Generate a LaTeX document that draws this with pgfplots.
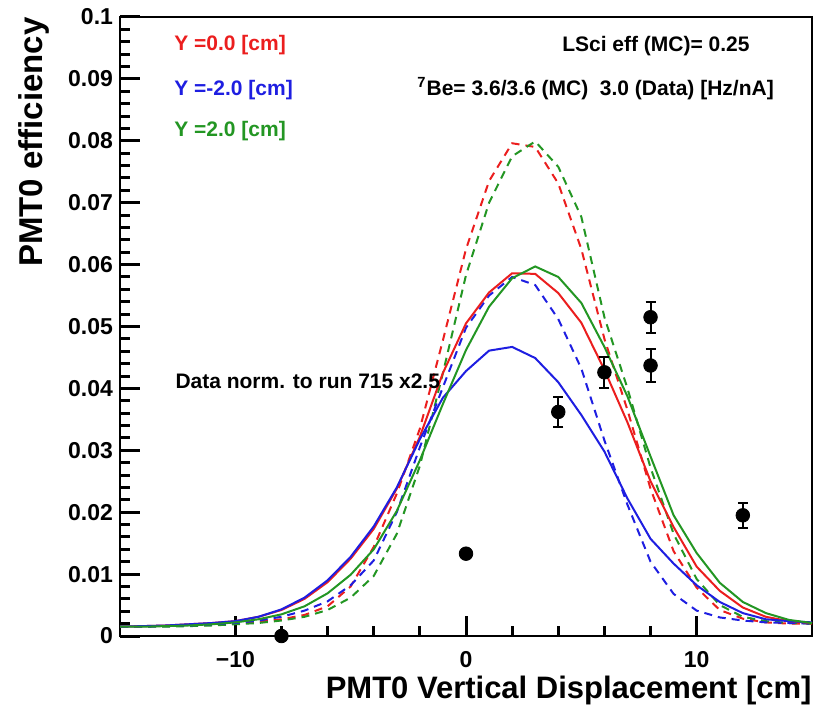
\documentclass[border=0pt]{standalone}
\usepackage{fontspec}
\setmainfont{Liberation Sans}
\usepackage{pgfplots}
\usepackage{pgfplotstable}
\pgfplotsset{compat=1.18}
\definecolor{rootred}{RGB}{235,30,30}
\definecolor{rootblue}{RGB}{30,30,225}
\definecolor{rootgreen}{RGB}{35,150,35}

\pgfplotstableread{
x rs bs gs rd bd gd
-15 0.0015 0.0015 0.0015 0.0015 0.0015 0.0015
-14 0.0016 0.0016 0.0015 0.0015 0.0015 0.0015
-13 0.0017 0.0017 0.0016 0.0016 0.0016 0.0015
-12 0.0019 0.0019 0.0017 0.0017 0.0017 0.0016
-11 0.0021 0.0021 0.0019 0.0018 0.0019 0.0017
-10 0.0024 0.0024 0.0022 0.0020 0.0021 0.0019
-9 0.0031 0.0031 0.0027 0.0023 0.0025 0.0021
-8 0.0042 0.0043 0.0035 0.0027 0.0031 0.0025
-7 0.0060 0.0062 0.0048 0.0034 0.0041 0.0031
-6 0.0087 0.0090 0.0069 0.0048 0.0056 0.0042
-5 0.0125 0.0128 0.0099 0.0080 0.0082 0.0062
-4 0.0173 0.0177 0.0140 0.0144 0.0122 0.0097
-3 0.0238 0.0240 0.0202 0.0230 0.0200 0.0165
-2 0.0322 0.0318 0.0284 0.0335 0.0305 0.0275
-1 0.0425 0.0385 0.0375 0.0478 0.0402 0.0425
0 0.0505 0.0428 0.0462 0.0625 0.0498 0.0583
1 0.0555 0.0461 0.0532 0.0735 0.0550 0.0700
2 0.0586 0.0467 0.0578 0.0796 0.0580 0.0775
3 0.0585 0.0449 0.0597 0.0790 0.0567 0.0799
4 0.0554 0.0410 0.0580 0.0731 0.0512 0.0758
5 0.0506 0.0357 0.0538 0.0625 0.0432 0.0677
6 0.0430 0.0298 0.0467 0.0480 0.0316 0.0515
7 0.0345 0.0222 0.0387 0.0365 0.0212 0.0400
8 0.0250 0.0157 0.0290 0.0238 0.0120 0.0272
9 0.0176 0.0117 0.0195 0.0137 0.0068 0.0165
10 0.0112 0.0082 0.0134 0.0078 0.0041 0.0092
11 0.0073 0.0055 0.0086 0.0042 0.0030 0.0050
12 0.0046 0.0037 0.0055 0.0028 0.0025 0.0031
13 0.0031 0.0027 0.0037 0.0022 0.0022 0.0024
14 0.0024 0.0024 0.0026 0.0020 0.0021 0.0021
15 0.0021 0.0022 0.0021 0.0020 0.0020 0.0020
}\curves

\pgfplotstableread{
x y e
-8 0.0000 0.0000
0 0.0133 0.0004
4 0.0362 0.0024
6 0.0426 0.0025
8 0.0515 0.0025
8 0.0437 0.0026
12 0.0195 0.0020
}\datapts

\begin{document}
\begin{tikzpicture}
\begin{axis}[
  scale only axis, width=346pt, height=309.5pt,
  xmin=-15, xmax=15, ymin=0, ymax=0.1,
  axis line style={line width=1.2pt},
  tick align=inside, xtick pos=bottom, ytick pos=left,
  xtick={-10,0,10}, xticklabels={−10,0,10},
  minor x tick num=4,
  ytick={0,0.01,0.02,0.03,0.04,0.05,0.06,0.07,0.08,0.09,0.1},
  yticklabels={0,0.01,0.02,0.03,0.04,0.05,0.06,0.07,0.08,0.09,0.1},
  minor y tick num=4,
  scaled y ticks=false,
  major tick length=10pt, minor tick length=5pt,
  tick style={line width=1.5pt, draw=black},
  tick label style={font=\bfseries\fontsize{11.5}{13}\selectfont},
  xticklabel style={yshift=-4pt},
  clip mode=individual,
]
\addplot[rootred, line width=1pt, dash pattern=on 4pt off 3pt] table[x=x,y=rd] {\curves};
\addplot[rootgreen, line width=1pt, dash pattern=on 4pt off 3pt] table[x=x,y=gd] {\curves};
\addplot[rootblue, line width=1pt, dash pattern=on 4pt off 3pt] table[x=x,y=bd] {\curves};
\addplot[rootred, line width=1pt] table[x=x,y=rs] {\curves};
\addplot[rootblue, line width=1pt] table[x=x,y=bs] {\curves};
\addplot[rootgreen, line width=1pt] table[x=x,y=gs] {\curves};
\addplot[black, only marks, mark=*, mark size=3.4pt, clip=false,
  error bars/.cd, y dir=both, y explicit,
  error bar style={line width=1pt},
  error mark=-,
  error mark options={rotate=90, line width=1pt, mark size=2.5pt}]
  table[x=x, y=y, y error=e] {\datapts};

\node[anchor=west, text=rootred, font=\bfseries\fontsize{10.5}{12}\selectfont] at (axis cs:-12.95,0.0955) {Y =0.0 [cm]};
\node[anchor=west, text=rootblue, font=\bfseries\fontsize{10.5}{12}\selectfont] at (axis cs:-12.95,0.0882) {Y =-2.0 [cm]};
\node[anchor=west, text=rootgreen, font=\bfseries\fontsize{10.5}{12}\selectfont] at (axis cs:-12.95,0.0816) {Y =2.0 [cm]};
\node[anchor=east, font=\bfseries\fontsize{10.5}{12}\selectfont] at (axis cs:12.6,0.0953) {LSci eff (MC)= 0.25};
\node[anchor=east, font=\bfseries\fontsize{10.5}{12}\selectfont] at (axis cs:13.65,0.0885) {\textsuperscript{7}Be= 3.6/3.6 (MC)\ \ 3.0 (Data) [Hz/nA]};
\node[anchor=west, font=\bfseries\fontsize{10.5}{12}\selectfont] at (axis cs:-12.9,0.0412) {Data norm. to run 715 x2.5};
\end{axis}
\node[rotate=90, anchor=south east, inner sep=0pt, font=\bfseries\fontsize{16.5}{18}\selectfont] at ([xshift=-35pt]current axis.north west) {PMT0 efficiency};
\node[anchor=north east, inner sep=0pt, font=\bfseries\fontsize{15.5}{18}\selectfont] at ([yshift=-20pt]current axis.south east) {PMT0 Vertical Displacement [cm]};
\pgfresetboundingbox
\path[use as bounding box] ([shift={(-60pt,-39.5pt)}]current axis.south west) rectangle ([shift={(9.5pt,8.5pt)}]current axis.north east);
\end{tikzpicture}
\end{document}
